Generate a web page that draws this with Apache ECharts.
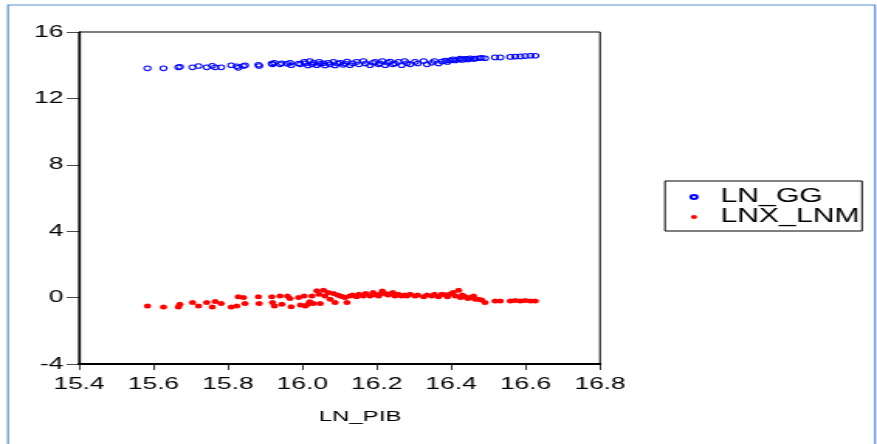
<!DOCTYPE html>
<html><head><meta charset="utf-8">
<script src="https://cdn.jsdelivr.net/npm/echarts@6/dist/echarts.min.js"></script>
<style>
html,body{margin:0;padding:0;background:#fff;}
#wrap{width:877px;height:444px;overflow:hidden;position:relative;background:#fff;}
#chart{width:566px;height:444px;transform:scaleX(1.5495);transform-origin:0 0;}
</style></head>
<body><div id="wrap"><div id="chart"></div></div>
<script>
// LN_PIB (shared x values)
const lnPib = [15.584,15.627,15.667,15.671,15.705,15.721,15.743,15.758,15.766,15.782,15.809,15.824,15.828,15.842,15.846,15.882,15.884,15.918,15.920,15.925,15.94,15.945,15.96,15.967,15.97,15.99,15.995,16.005,16.008,16.015,16.02,16.026,16.03,16.039,16.045,16.048,16.057,16.061,16.07,16.075,16.084,16.088,16.095,16.102,16.11,16.115,16.12,16.128,16.135,16.146,16.152,16.164,16.17,16.182,16.19,16.196,16.205,16.209,16.215,16.223,16.23,16.236,16.243,16.249,16.258,16.267,16.275,16.281,16.29,16.303,16.31,16.326,16.335,16.348,16.355,16.366,16.375,16.384,16.39,16.397,16.405,16.411,16.42,16.425,16.43,16.438,16.445,16.451,16.46,16.465,16.474,16.482,16.491,16.518,16.532,16.559,16.572,16.586,16.599,16.613,16.626];
// LN_GG
const lnGG = [13.81,13.81,13.87,13.90,13.87,13.95,13.87,13.96,13.87,13.87,14.0,13.93,13.84,13.95,14.0,14.03,13.95,14.10,14.05,14.15,14.05,14.12,14.08,14.15,14.0,14.10,14.05,14.20,14.12,13.98,14.25,14.05,14.15,14.0,14.2,14.08,14.12,13.98,14.15,14.05,14.2,13.98,14.10,14.15,14.02,14.10,14.22,14.00,14.12,14.20,14.05,14.25,14.10,14.0,14.15,14.20,14.05,14.12,14.25,14.0,14.15,14.22,14.05,14.10,14.20,14.0,14.25,14.12,14.05,14.20,14.10,14.25,14.05,14.15,14.25,14.10,14.22,14.28,14.20,14.30,14.35,14.28,14.35,14.40,14.32,14.38,14.35,14.42,14.38,14.40,14.42,14.45,14.42,14.47,14.47,14.50,14.52,14.53,14.55,14.57,14.57];
// LNX_LNM
const lnxLnm = [-0.50,-0.56,-0.56,-0.40,-0.30,-0.50,-0.30,-0.56,-0.24,-0.36,-0.56,-0.50,0.05,0.00,-0.36,0.05,-0.36,0.05,-0.30,-0.50,0.10,-0.40,0.10,-0.05,-0.55,0.00,-0.45,0.10,-0.50,-0.40,-0.25,0.10,-0.35,0.41,0.20,-0.36,0.45,0.10,0.30,-0.10,0.25,-0.30,0.15,0.10,0.05,0.00,-0.30,0.10,0.15,0.05,0.20,0.10,0.25,0.10,0.30,0.17,0.10,0.21,0.40,0.25,0.15,0.21,0.30,0.10,0.20,0.10,0.15,0.10,0.20,0.10,0.15,0.05,0.15,0.10,0.20,0.05,0.20,0.17,0.05,0.21,0.30,0.10,0.45,0.00,0.15,0.05,-0.05,0.00,0.10,-0.10,-0.10,-0.15,-0.30,-0.20,-0.20,-0.20,-0.18,-0.20,-0.18,-0.20,-0.20];
const xTicks = ['15.4','15.6','15.8','16.0','16.2','16.4','16.6','16.8'];
const yTicks = ['-4','0','4','8','12','16'];
const seriesNames = ['LN_GG','LNX_LNM'];
const xName = 'LN_PIB';

const S = 877/566;           // horizontal stretch of the picture
const px = v => v / S;       // picture x -> internal x
const font = 'Liberation Sans, Arial, sans-serif';

const chart = echarts.init(document.getElementById('chart'), null, {renderer:'canvas'});
const gl = px(79), gr = px(600);
chart.setOption({
  animation:false,
  backgroundColor:'#fff',
  grid:{left:gl, top:32, width:gr-gl, height:332, show:true, borderColor:'#000', borderWidth:1, backgroundColor:'transparent'},
  xAxis:{type:'value', min:+xTicks[0], max:+xTicks[xTicks.length-1], interval:0.2,
    axisLine:{show:true, onZero:false, lineStyle:{color:'#000', width:2}},
    axisTick:{show:true, length:6, lineStyle:{color:'#000', width:0.8}},
    splitLine:{show:false},
    axisLabel:{margin:12, color:'#000', fontSize:17, fontFamily:font,
      formatter:v=>{const i=Math.round((v-(+xTicks[0]))/0.2);return xTicks[i]!==undefined?xTicks[i]:'';}}
  },
  yAxis:{type:'value', min:+yTicks[0], max:+yTicks[yTicks.length-1], interval:4,
    axisLine:{show:true, onZero:false, lineStyle:{color:'#000', width:1.3}},
    axisTick:{show:true, length:8, lineStyle:{color:'#000', width:0.7}},
    splitLine:{show:false},
    axisLabel:{margin:10, color:'#000', fontSize:17, fontFamily:font,
      formatter:v=>{const s=String(Math.round(v));return yTicks.includes(s)?s:'';}}
  },
  legend:{orient:'vertical', left:px(665), top:181, padding:[6,1.5,4,15.7],
    borderColor:'#000', borderWidth:1, itemGap:0, itemWidth:24, itemHeight:4,
    textStyle:{fontSize:19.5, fontFamily:font, color:'#000', lineHeight:20},
    data:seriesNames},
  graphic:[
    {type:'rect', z:-1, silent:true, shape:{x:px(8), y:5, width:px(875-8), height:460},
      style:{fill:'none', stroke:'#5b8fd0', lineWidth:1.2}},
    {type:'text', x:px(360), y:417, style:{text:xName, font:'15.5px '+font, fill:'#000', align:'center', verticalAlign:'middle'}}
  ],
  series:[
    {name:seriesNames[0], type:'scatter', symbol:'circle', symbolSize:[4.3,4.6],
      itemStyle:{color:'rgba(255,255,255,0)', borderColor:'#0000ff', borderWidth:1, opacity:1},
      data:lnPib.map((x,i)=>[x,lnGG[i]])},
    {name:seriesNames[1], type:'scatter', symbol:'circle', symbolSize:[4.8,5],
      itemStyle:{color:'#ff0000', opacity:1},
      data:lnPib.map((x,i)=>[x,lnxLnm[i]])}
  ]
});
</script></body></html>
